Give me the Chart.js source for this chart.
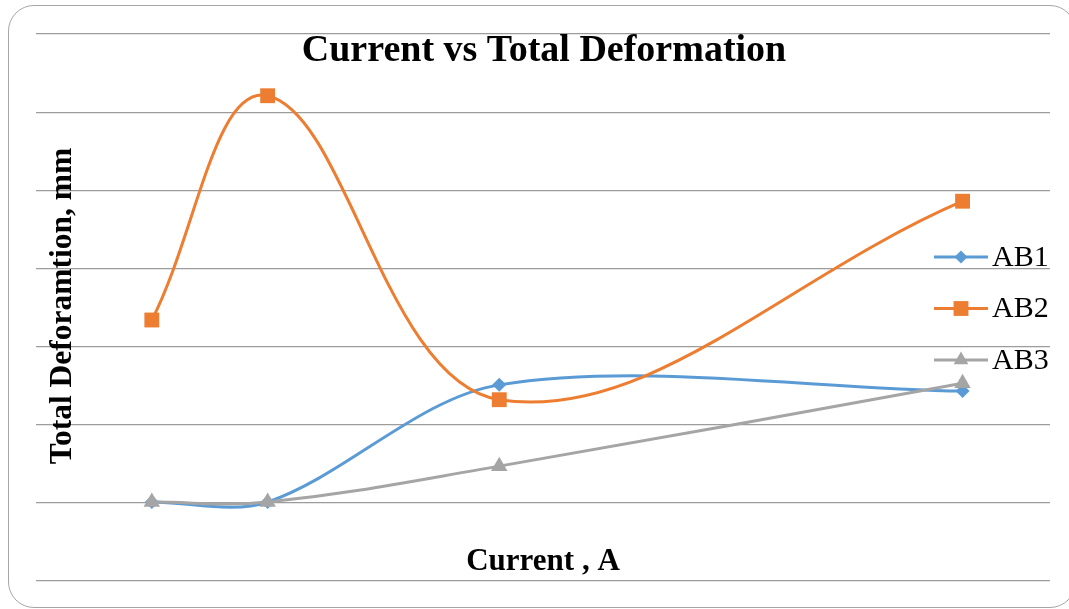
<!DOCTYPE html>
<html>
<head>
<meta charset="utf-8">
<script src="https://cdn.jsdelivr.net/npm/chart.js@4.4.1/dist/chart.umd.min.js"></script>
<style>
  html, body { margin: 0; padding: 0; background: #ffffff; overflow: hidden; }
  #wrap { position: relative; width: 1069px; height: 609px; }
  #chart { position: absolute; left: 0; top: 0; }
  #frame {
    position: absolute; left: 8px; top: 5px; width: 1066px; height: 601px;
    border: 1.5px solid #a6a6a6; border-radius: 26px; pointer-events: none;
  }
</style>
</head>
<body>
<div id="wrap">
  <canvas id="chart" width="1069" height="609"></canvas>
  <div id="frame"></div>
</div>
<script>
// Welding current settings (x) and total deformation for each specimen
const currents = [1, 2, 4, 8];
const ab1 = [1.01, 1.01, 2.51, 2.43];
const ab2 = [3.34, 6.21, 2.32, 4.86];
const ab3 = [1.01, 1.01, 1.47, 2.53];
const seriesNames = ['AB1', 'AB2', 'AB3'];
const chartTitle = 'Current vs Total Deformation';
const xTitle = 'Current , A';
const yTitle = 'Total Deforamtion, mm';

const colors = ['#5b9bd5', '#ed7d31', '#a5a5a5'];
const markers = ['rectRot', 'rect', 'triangle'];
const radii = [7, 10.5, 9.5];
const tensions = [0.32, 0.38, 0.38];
const serif = '"Liberation Serif", "Times New Roman", serif';

function toPoints(ys) {
  return currents.map((x, i) => ({ x: x, y: ys[i] }));
}

const datasets = [ab1, ab2, ab3].map((ys, i) => ({
  label: seriesNames[i],
  data: toPoints(ys),
  borderColor: colors[i],
  backgroundColor: colors[i],
  borderWidth: 3,
  pointStyle: markers[i],
  pointRadius: radii[i],
  pointHoverRadius: radii[i],
  pointBorderWidth: 0,
  tension: tensions[i],
  order: 3 - i,
  clip: false
}));

// Draw a legend marker in the same shape as the series points
function drawMarker(ctx, style, x, y, r) {
  ctx.beginPath();
  if (style === 'rect') {
    const s = Math.SQRT1_2 * r;
    ctx.rect(x - s, y - s, 2 * s, 2 * s);
  } else if (style === 'rectRot') {
    ctx.moveTo(x, y - r); ctx.lineTo(x + r, y); ctx.lineTo(x, y + r); ctx.lineTo(x - r, y);
    ctx.closePath();
  } else {
    const h = r;
    ctx.moveTo(x, y - h);
    ctx.lineTo(x + h * Math.cos(Math.PI / 6), y + h * 0.5);
    ctx.lineTo(x - h * Math.cos(Math.PI / 6), y + h * 0.5);
    ctx.closePath();
  }
  ctx.fill();
}

const overlayText = {
  id: 'overlayText',
  afterDraw(chart) {
    const ctx = chart.ctx;
    ctx.save();
    ctx.fillStyle = '#000000';

    // chart title
    ctx.font = 'bold 38px ' + serif;
    ctx.textAlign = 'center';
    ctx.textBaseline = 'alphabetic';
    ctx.fillText(chartTitle, 544, 61);

    // x axis title
    ctx.font = 'bold 31px ' + serif;
    ctx.fillText(xTitle, 543, 570);

    // y axis title
    ctx.save();
    ctx.translate(71, 306);
    ctx.rotate(-Math.PI / 2);
    ctx.font = 'bold 31.5px ' + serif;
    ctx.textAlign = 'center';
    ctx.textBaseline = 'alphabetic';
    ctx.fillText(yTitle, 0, 0);
    ctx.restore();

    // legend
    const legendY = [257, 308.5, 360];
    chart.data.datasets.forEach((ds, i) => {
      const y = legendY[i];
      ctx.strokeStyle = ds.borderColor;
      ctx.fillStyle = ds.borderColor;
      ctx.lineWidth = 3;
      ctx.beginPath();
      ctx.moveTo(934, y);
      ctx.lineTo(988, y);
      ctx.stroke();
      drawMarker(ctx, ds.pointStyle, 961, y, [6.5, 10.5, 8.5][i]);
      ctx.fillStyle = '#000000';
      ctx.font = '30px ' + serif;
      ctx.textAlign = 'left';
      ctx.textBaseline = 'middle';
      ctx.fillText(ds.label, 992, y + 1);
    });
    ctx.restore();
  }
};

new Chart(document.getElementById('chart'), {
  type: 'line',
  data: { datasets: datasets },
  options: {
    responsive: false,
    animation: false,
    devicePixelRatio: 1,
    layout: { padding: { left: 36, right: 19, top: 34, bottom: 28 } },
    plugins: {
      legend: { display: false },
      title: { display: false },
      tooltip: { enabled: false }
    },
    scales: {
      x: {
        type: 'linear',
        min: 0,
        max: 8.755,
        display: false
      },
      y: {
        type: 'linear',
        min: 0,
        max: 7,
        ticks: { display: false, stepSize: 1 },
        grid: { color: '#9c9c9c', lineWidth: 1.2, drawTicks: false },
        border: { display: false },
        afterFit(scale) { scale.width = 0; }
      }
    }
  },
  plugins: [overlayText]
});
</script>
</body>
</html>
